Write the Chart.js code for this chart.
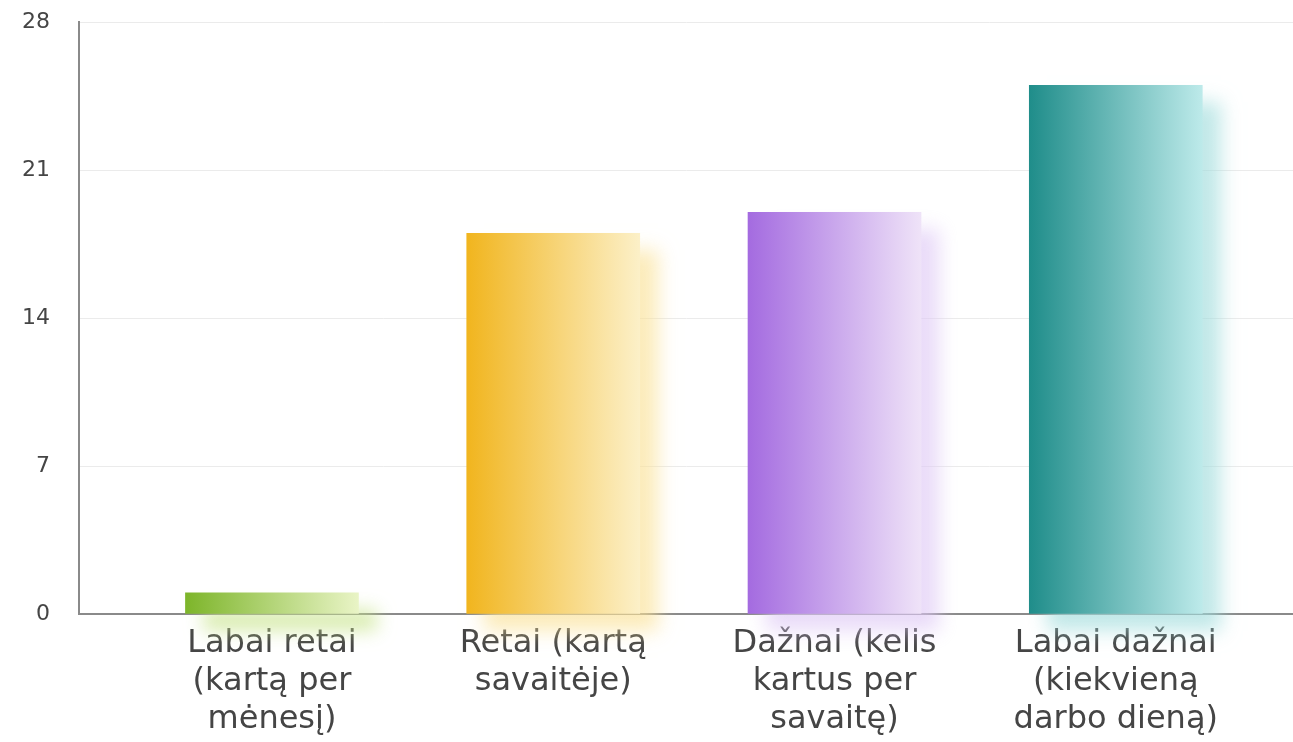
<!DOCTYPE html>
<html>
<head>
<meta charset="utf-8">
<script src="https://cdn.jsdelivr.net/npm/chart.js@4.4.1/dist/chart.umd.min.js"></script>
<style>
  html, body { margin: 0; padding: 0; background: #ffffff; }
  #wrap { width: 1293px; height: 742px; position: relative; }
</style>
</head>
<body>
<div id="wrap"><canvas id="c"></canvas></div>
<script>
// ---- data ----
const categories = [
  ["Labai retai", "(kartą per", "mėnesį)"],
  ["Retai (kartą", "savaitėje)"],
  ["Dažnai (kelis", "kartus per", "savaitę)"],
  ["Labai dažnai", "(kiekvieną", "darbo dieną)"]
];
const values = [1, 18, 19, 25];
const yTicks = [0, 7, 14, 21, 28];

// ---- styles ----
const colorLeft  = ["#7db52a", "#f1b51e", "#a46be0", "#1f8d8a"];
const colorRight = ["#e9f4c6", "#fcf0c8", "#efe3f8", "#bdeaea"];
const shadowCol  = ["rgba(200,228,140,0.7)", "rgba(250,225,150,0.65)", "rgba(222,200,245,0.65)", "rgba(160,220,220,0.65)"];
const BAR_W = 173;

const shadowPlugin = {
  id: 'barShadow',
  beforeDatasetDraw(chart, args) {
    const ctx = chart.ctx;
    const meta = args.meta;
    meta.data.forEach((el, i) => {
      ctx.save();
      ctx.shadowColor = shadowCol[i];
      ctx.shadowBlur = 18;
      ctx.shadowOffsetX = 18;
      ctx.shadowOffsetY = 17;
      el.draw(ctx);
      ctx.restore();
    });
    return false;
  }
};

new Chart(document.getElementById('c'), {
  type: 'bar',
  data: {
    datasets: [{
      data: values.map((v, i) => ({ x: i, y: v })),
      barThickness: BAR_W,
      borderWidth: 0,
      clip: false,
      backgroundColor: (c) => {
        const chart = c.chart;
        if (!chart.chartArea || c.dataIndex === undefined) return colorLeft[c.dataIndex || 0];
        const px = chart.scales.x.getPixelForValue(c.dataIndex);
        const g = chart.ctx.createLinearGradient(px - BAR_W / 2, 0, px + BAR_W / 2, 0);
        g.addColorStop(0, colorLeft[c.dataIndex]);
        g.addColorStop(1, colorRight[c.dataIndex]);
        return g;
      }
    }]
  },
  options: {
    responsive: true,
    maintainAspectRatio: false,
    animation: false,
    layout: { padding: 0 },
    plugins: { legend: { display: false }, tooltip: { enabled: false } },
    scales: {
      x: {
        type: 'linear',
        offset: false,
        min: -0.686,
        max: 3.63,
        grid: { display: false, drawTicks: false, offset: false },
        border: { display: true, color: '#8a8a8a', width: 2 },
        afterBuildTicks: (s) => { s.ticks = categories.map((_, i) => ({ value: i })); },
        afterFit: (s) => { s.height = 128; s.paddingLeft = 0; s.paddingRight = 0; },
        ticks: {
          padding: 10,
          autoSkip: false,
          maxRotation: 0,
          color: '#454545',
          font: { family: 'DejaVu Sans', size: 32, lineHeight: 1.2 },
          callback: (v) => categories[v]
        }
      },
      y: {
        min: 0,
        max: 28,
        afterBuildTicks: (s) => { s.ticks = yTicks.map(v => ({ value: v })); },
        afterFit: (s) => { s.width = 79; s.paddingTop = 22; s.paddingBottom = 0; },
        grid: { color: '#ebebeb', lineWidth: 1, drawTicks: false },
        border: { display: true, color: '#8a8a8a', width: 2 },
        ticks: {
          padding: 29,
          color: '#454545',
          font: { family: 'DejaVu Sans', size: 22 }
        }
      }
    }
  },
  plugins: [shadowPlugin]
});
</script>
</body>
</html>
